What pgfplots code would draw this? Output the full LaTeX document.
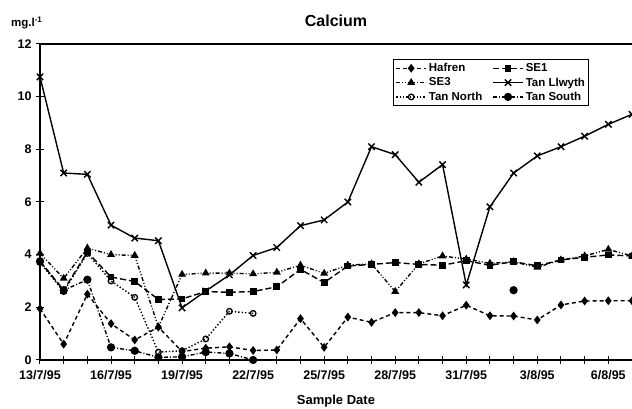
\documentclass[border=0pt]{standalone}
\usepackage{fontspec}
\setmainfont{Liberation Sans}
\usepackage{pgfplots}
\pgfplotsset{compat=1.18}
\begin{document}
\begin{tikzpicture}
\begin{axis}[
  scale only axis,
  width=592pt, height=316pt,
  xmin=0, xmax=25, ymin=0, ymax=12,
  axis x line*=bottom, axis y line*=left,
  axis line style={-, line width=1.4pt},
  xtick={0,3,...,24},
  minor xtick={0,...,25},
  xticklabels={13/7/95,16/7/95,19/7/95,22/7/95,25/7/95,28/7/95,31/7/95,3/8/95,6/8/95},
  ytick={0,2,...,12},
  tick align=center,
  major tick length=8pt, minor tick length=8pt,
  every tick/.style={black, line width=1pt},
  tick label style={font=\bfseries\fontsize{12.5}{13}\selectfont},
  /pgf/number format/assume math mode=true,
  xticklabel style={yshift=-3pt},
  yticklabel style={xshift=-1pt},
  title={Calcium},
  title style={font=\bfseries\fontsize{16}{18}\selectfont, at={(0.5,1)}, anchor=base, yshift=11pt},
  xlabel={Sample Date},
  xlabel style={font=\bfseries\fontsize{13}{15}\selectfont, at={(0.5,0)}, anchor=base, yshift=-45pt},
  unbounded coords=jump,
  clip=false,
  legend columns=2,
  legend cell align=left,
  legend style={at={(0.5963,0.953)}, anchor=north west, draw=black, line width=1pt,
    font=\bfseries\fontsize{11.5}{13}\selectfont, inner sep=2pt, row sep=0.5pt,
    /tikz/every odd column/.append style={column sep=0pt},
    /tikz/every even column/.append style={column sep=8pt}},
  legend image code/.code={\draw[mark repeat=2,mark phase=2,#1] plot coordinates {(0pt,0pt) (15pt,0pt) (30pt,0pt)};},
  every axis plot/.append style={black, line width=1.4pt},
]
\coordinate (bl) at (rel axis cs:0,0);
\coordinate (tr) at (rel axis cs:1,1);
\draw[line width=1.4pt] (rel axis cs:0,1) -- (rel axis cs:1,1);
% Hafren
\addplot[dash pattern=on 4pt off 3pt, mark=diamond*, mark size=3.3pt, mark options={solid}] coordinates {
(0,1.95) (1,0.6) (2,2.5) (3,1.38) (4,0.76) (5,1.25) (6,0.32) (7,0.45) (8,0.5) (9,0.36)
(10,0.38) (11,1.57) (12,0.48) (13,1.63) (14,1.43) (15,1.8) (16,1.8) (17,1.68) (18,2.08) (19,1.68)
(20,1.67) (21,1.52) (22,2.09) (23,2.24) (24,2.25) (25,2.25)};
\addlegendentry{Hafren}
% SE1
\addplot[dash pattern=on 6pt off 3pt, mark=square*, mark size=2.7pt, mark options={solid}] coordinates {
(0,3.75) (1,2.65) (2,4.1) (3,3.15) (4,2.98) (5,2.3) (6,2.32) (7,2.6) (8,2.57) (9,2.6)
(10,2.78) (11,3.44) (12,2.94) (13,3.57) (14,3.63) (15,3.7) (16,3.63) (17,3.6) (18,3.77) (19,3.6)
(20,3.73) (21,3.58) (22,3.8) (23,3.9) (24,3.99) (25,3.95)};
\addlegendentry{SE1}
% SE3
\addplot[dash pattern=on 4pt off 2pt on 1pt off 2pt on 1pt off 2pt, mark=triangle*, mark size=3.2pt, mark options={solid}] coordinates {
(0,4.05) (1,3.1) (2,4.25) (3,4.0) (4,3.97) (5,1.25) (6,3.25) (7,3.3) (8,3.3) (9,3.27)
(10,3.33) (11,3.6) (12,3.29) (13,3.6) (14,3.65) (15,2.6) (16,3.65) (17,3.95) (18,3.83) (19,3.67)
(20,3.73) (21,3.52) (22,3.8) (23,3.95) (24,4.2) (25,3.95)};
\addlegendentry{SE3}
% Tan Llwyth
\addplot[solid, mark=x, mark size=4.5pt, mark options={line width=1.4pt}] coordinates {
(0,10.75) (1,7.1) (2,7.05) (3,5.12) (4,4.63) (5,4.53) (6,1.98) (7,2.62) (8,3.23) (9,3.97)
(10,4.27) (11,5.1) (12,5.32) (13,6.0) (14,8.1) (15,7.8) (16,6.75) (17,7.42) (18,2.85) (19,5.82)
(20,7.1) (21,7.75) (22,8.1) (23,8.5) (24,8.95) (25,9.33)};
\addlegendentry{Tan Llwyth}
% Tan North
\addplot[dotted, mark=o, mark size=2.8pt, mark options={solid, fill=white, line width=1.3pt}] coordinates {
(0,3.7) (1,2.6) (2,4.05) (3,3.0) (4,2.38) (5,0.3) (6,0.35) (7,0.8) (8,1.85) (9,1.77)};
\addlegendentry{Tan North}
% Tan South
\addplot[dash pattern=on 4pt off 2pt on 1pt off 2pt, mark=*, mark size=3.4pt, mark options={solid}] coordinates {
(0,3.75) (1,2.65) (2,3.05) (3,0.48) (4,0.35) (5,0.1) (6,0.12) (7,0.3) (8,0.25) (9,0.0)
(10,nan) (20,2.65)};
\addlegendentry{Tan South}
\node[anchor=base east, font=\bfseries\fontsize{11.5}{12}\selectfont, xshift=6pt, yshift=17pt] at (axis description cs:0,1) {mg.l\textsuperscript{-1}};
\end{axis}
\pgfresetboundingbox
\path[use as bounding box] ([shift={(-40pt,-49pt)}]bl) rectangle ([shift={(0pt,44pt)}]tr);
\end{tikzpicture}
\end{document}
